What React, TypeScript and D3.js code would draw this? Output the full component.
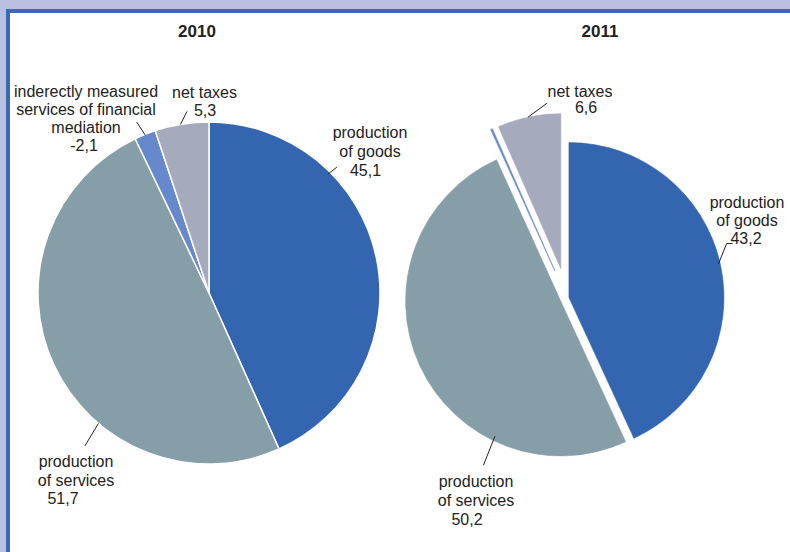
import React from 'react';
import * as d3 from 'd3';

// categories, in the drawing order (clockwise from 12 o'clock)
const categoryLines = [
  ['production', 'of goods'],
  ['production', 'of services'],
  ['inderectly measured', 'services of financial', 'mediation'],
  ['net taxes'],
];
const years = ['2010', '2011'];
const values2010 = [45.1, 51.7, -2.1, 5.3];
const values2011 = [43.2, 50.2, -0.2, 6.6];

const colors = ['#3365b0', '#869ea8', '#6688cc', '#a5aabd'];

const fmt = (v: number) => d3.format('.1f')(v).replace('.', ',').replace('\u2212', '-');

// layout of each pie and its labels (angles in degrees, clockwise from top)
const pies = [
  {
    year: years[0], values: values2010, cx: 209, cy: 293, r: 171, titleX: 197,
    explode: [0, 0, 0, 0], stroke: '#fff', strokeWidth: 1.5,
    labels: [
      { slice: 0, angle: 45, rf: 0.983, leg: [[9, -7]], tx: 161, ty: -155, step: 19, vdx: -4.5 },
      { slice: 1, angle: 220.3, rf: 1.0, leg: [[-13.5, 22.5]], tx: -133, ty: 174, step: 18.5, vdx: -13 },
      { slice: 2, angle: 338, rf: 0.997, leg: [[-8.5, -13]], tx: -123, ty: -196, step: 18, vdx: -2 },
      { slice: 3, angle: 350.4, rf: 1.0, leg: [[6.5, -13]], tx: -4.5, ty: -195, step: 17.5, vdx: 0.5 },
    ],
  },
  {
    year: years[1], values: values2011, cx: 567, cy: 298, r: 155, titleX: 600,
    explode: [2, 7, 30, 30], stroke: null, strokeWidth: 0.6,
    labels: [
      { slice: 0, angle: 77.2, rf: 0.99, leg: [[8, -20], [14, -20]], tx: 180, ty: -90, step: 18, vdx: -1 },
      { slice: 1, angle: 205.9, rf: 0.97, leg: [[-11.5, 29]], tx: -91, ty: 189, step: 19, vdx: -9 },
      { slice: 3, angle: 347.8, rf: 1.0, leg: [[19, -14]], tx: 13, ty: -201, step: 15.5, vdx: 6 },
    ],
  },
];

const polar = (deg: number, dist: number): [number, number] => {
  const a = (deg * Math.PI) / 180;
  return [Math.sin(a) * dist, -Math.cos(a) * dist];
};

const font = "'Liberation Sans', Arial, sans-serif";

function Pie({ p }: { p: any }) {
  const arcs = d3.pie<number>().sort(null).value((d) => Math.abs(d))(p.values);
  const arc = d3.arc<d3.PieArcDatum<number>>().innerRadius(0).outerRadius(p.r);
  // offset of every slice along its mid angle
  const offs = arcs.map((a, i) => {
    const mid = ((a.startAngle + a.endAngle) / 2) * (180 / Math.PI);
    return polar(mid, p.explode[i]);
  });
  return (
    <g>
      <text x={p.titleX} y={37} textAnchor="middle" fontFamily={font} fontWeight="bold" fontSize={17} fill="#222">
        {p.year}
      </text>
      <g transform={`translate(${p.cx},${p.cy})`}>
        {arcs.map((a, i) => (
          <path
            key={i}
            d={arc(a) as string}
            transform={`translate(${offs[i][0]},${offs[i][1]})`}
            fill={colors[i]}
            stroke={p.stroke || colors[i]}
            strokeWidth={p.strokeWidth}
            strokeLinejoin="round"
          />
        ))}
        {p.labels.map((l: any, k: number) => {
          const o = offs[l.slice];
          const [ix, iy] = polar(l.angle, p.r * l.rf);
          const x0 = o[0] + ix, y0 = o[1] + iy;
          const pts = [[x0, y0], ...l.leg.map((d: number[]) => [x0 + d[0], y0 + d[1]])];
          const lines = [...categoryLines[l.slice], fmt(p.values[l.slice])];
          return (
            <g key={k}>
              <polyline points={pts.map((q) => q.join(',')).join(' ')} fill="none" stroke="#222" strokeWidth={1} />
              {lines.map((t, j) => (
                <text
                  key={j}
                  x={l.tx + (j === lines.length - 1 ? l.vdx : 0)}
                  y={l.ty + j * l.step}
                  textAnchor="middle"
                  fontFamily={font}
                  fontSize={16}
                  fill="#222"
                >
                  {t}
                </text>
              ))}
            </g>
          );
        })}
      </g>
    </g>
  );
}

export default function App() {
  return (
    <svg width={790} height={552} style={{ position: 'absolute', left: 0, top: 0 }}>
      <rect x={0} y={0} width={790} height={552} fill="#b9c0e1" />
      <rect x={8} y={11} width={800} height={560} fill="#fff" stroke="#3a69b6" strokeWidth={4} />
      {pies.map((p) => (
        <Pie key={p.year} p={p} />
      ))}
    </svg>
  );
}
